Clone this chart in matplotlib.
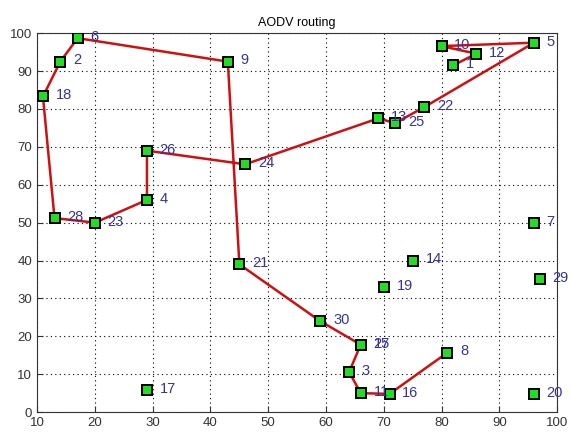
import matplotlib
matplotlib.use("Agg")
import matplotlib.pyplot as plt

plt.rcParams['font.family'] = ['Liberation Sans', 'DejaVu Sans']

# node positions (node id = index + 1)
node_x = [82, 14, 64, 29, 96, 17, 96, 81, 43, 80,
          66, 86, 69, 75, 66, 71, 29, 11, 70, 96,
          45, 77, 20, 46, 72, 29, 66, 13, 97, 59]
node_y = [91.5, 92.5, 10.6, 56, 97.5, 98.7, 50, 15.7, 92.5, 96.6,
          5, 94.6, 77.5, 40, 17.8, 4.8, 5.7, 83.3, 33, 4.8,
          39, 80.5, 50, 65.4, 76.3, 69, 17.8, 51.2, 35, 24]

# route found by AODV (node ids)
route = [1, 12, 10, 5, 22, 25, 13, 24, 26, 4, 23, 28, 18, 2, 6, 9,
         21, 30, 15, 3, 11, 16, 8]

fig, ax = plt.subplots(figsize=(5.72, 4.37), dpi=100)
fig.subplots_adjust(left=0.065, right=0.974, bottom=0.057, top=0.924)

rx = [node_x[n - 1] for n in route]
ry = [node_y[n - 1] for n in route]
ax.plot(rx, ry, color='#d01010', lw=1.8, zorder=2)

ax.plot(node_x, node_y, 's', ms=7.5, mfc='#22dd22', mec='black', mew=1.4,
        ls='none', zorder=3)

for i in range(len(node_x)):
    ax.text(node_x[i] + 2.2, node_y[i] + 0.3, str(i + 1), color='#34349a',
            fontsize=10.5, va='center', ha='left', zorder=4)

ax.set_xlim(10, 100)
ax.set_ylim(0, 100)
ax.set_xticks(range(10, 101, 10))
ax.set_yticks(range(0, 101, 10))
ax.grid(True, ls=(0, (1, 3)), color='black', lw=0.8)
ax.tick_params(labelsize=9.5, colors='#333333', direction='in', length=4)
for s in ax.spines.values():
    s.set_color('#333333')
ax.set_title('AODV routing', fontsize=9, pad=5)

fig.savefig('out.png', dpi=100)
